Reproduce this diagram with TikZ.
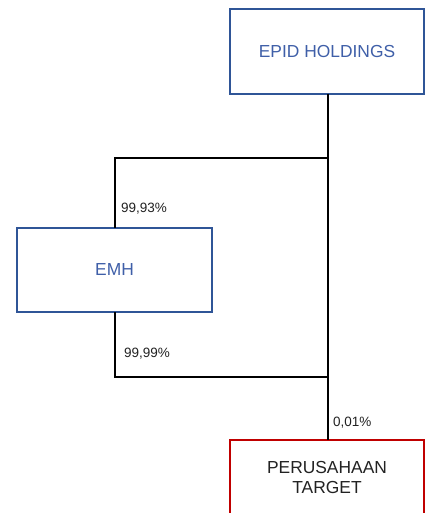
\documentclass[tikz,border=0pt]{standalone}
\usepackage{fontspec}
\setmainfont{Liberation Sans}
\definecolor{boxblue}{HTML}{2F5597}
\definecolor{txtblue}{HTML}{3F5FA8}
\definecolor{boxred}{HTML}{C00000}
\definecolor{txtdark}{HTML}{222222}
\begin{document}
\begin{tikzpicture}[x=1pt,y=-1pt,
  entity/.style={draw, line width=1.8pt, inner sep=0pt, outer sep=0pt},
  conn/.style={line width=1.6pt, black},
  pct/.style={font=\fontsize{13.5}{15}\selectfont, text=txtdark, inner sep=0pt, anchor=west}]
\useasboundingbox (0,0) rectangle (428,513);
\begin{scope}
\clip (0,0) rectangle (428,513);
\node[entity, draw=boxblue, minimum width=194pt, minimum height=85pt,
  font=\fontsize{17.4}{20}\selectfont, text=txtblue] (epid) at (327,51.5) {EPID HOLDINGS};
\node[entity, draw=boxblue, minimum width=195pt, minimum height=84pt,
  font=\fontsize{17.4}{20}\selectfont, text=txtblue] (emh) at (114.5,270) {EMH};
\node[entity, draw=boxred, minimum width=194pt, minimum height=90pt] (tgt) at (327,485) {};
\node[font=\fontsize{17.4}{20}\selectfont, text=txtdark, align=center, inner sep=0pt] (tgttxt) at (327,478) {PERUSAHAAN\\TARGET};
\coordinate (j1) at (328,158);
\coordinate (j2) at (328,377);
\coordinate (l1) at (115,158);
\coordinate (l2) at (115,377);
\draw[conn] (epid.south -| j1) -- (j1) -- (tgt.north -| j1);
\draw[conn] (j1) -- (l1) -- (emh.north -| l1);
\draw[conn] (emh.south -| l2) -- (l2) -- (j2);
\node[pct] (p1) at (121,209) {99,93\%};
\node[pct] (p2) at (124,354) {99,99\%};
\node[pct] (p3) at (333,423) {0,01\%};
\end{scope}
\end{tikzpicture}
\end{document}
